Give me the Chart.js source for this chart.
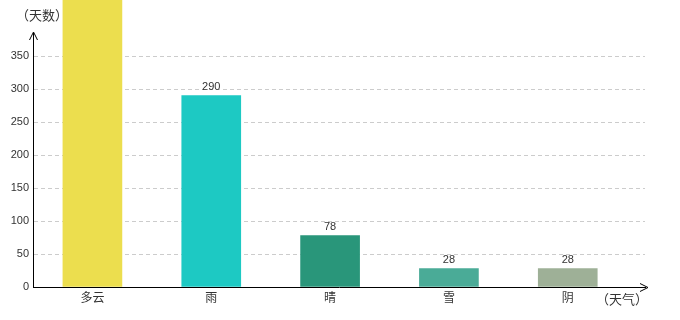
<!DOCTYPE html>
<html>
<head>
<meta charset="utf-8">
<script src="https://cdn.jsdelivr.net/npm/chart.js@4"></script>
<style>
  html, body { margin: 0; padding: 0; background: #fff; }
  #wrap { width: 680px; height: 320px; }
</style>
</head>
<body>
<div id="wrap"><canvas id="myChart" width="680" height="320"></canvas></div>
<script>
// weather categories and days
const categories = ['多云', '雨', '晴', '雪', '阴'];
const days = [500, 290, 78, 28, 28];
const barColors = ['#ECDE4E', '#1DC9C3', '#29967A', '#4AAB97', '#9EB097'];
const yTicks = [0, 50, 100, 150, 200, 250, 300, 350];

const font = "'Noto Sans CJK SC', 'Liberation Sans', sans-serif";

// value labels above bars + axis arrows + axis titles
const extras = {
  id: 'extras',
  afterDatasetsDraw(chart) {
    const ctx = chart.ctx;
    const meta = chart.getDatasetMeta(0);
    ctx.save();
    ctx.fillStyle = '#333';
    ctx.font = "11px 'Liberation Sans', sans-serif";
    ctx.textAlign = 'center';
    ctx.textBaseline = 'bottom';
    meta.data.forEach((bar, i) => {
      ctx.fillText(String(days[i]), bar.x, bar.y - 3);
    });
    ctx.restore();
  },
  afterDraw(chart) {
    const ctx = chart.ctx;
    const a = chart.chartArea;
    ctx.save();
    ctx.strokeStyle = '#000';
    ctx.lineWidth = 1;
    // y arrow
    ctx.beginPath();
    ctx.moveTo(a.left - 3.5, a.top + 7);
    ctx.lineTo(a.left + 0.5, a.top - 1);
    ctx.lineTo(a.left + 4.5, a.top + 7);
    ctx.stroke();
    // x arrow
    ctx.beginPath();
    ctx.moveTo(a.right - 5, a.bottom - 3.5);
    ctx.lineTo(a.right + 3, a.bottom + 0.5);
    ctx.lineTo(a.right - 5, a.bottom + 4.5);
    ctx.stroke();
    ctx.fillStyle = '#333';
    ctx.font = '13px ' + font;
    ctx.textBaseline = 'middle';
    ctx.textAlign = 'left';
    ctx.fillText('（天数）', 16, 15);
    ctx.fillText('（天气）', 596, 299);
    ctx.restore();
  }
};

new Chart(document.getElementById('myChart'), {
  type: 'bar',
  data: {
    datasets: [{
      data: days.map((v, i) => ({ x: i, y: v })),
      backgroundColor: barColors,
      barThickness: 59,
      clip: false
    }]
  },
  options: {
    responsive: false,
    animation: false,
    layout: { padding: { top: 33, right: 35, left: 0, bottom: 0 } },
    plugins: { legend: { display: false }, tooltip: { enabled: false } },
    scales: {
      x: {
        type: 'linear',
        offset: false,
        min: -0.5,
        max: 4.65,
        afterFit: s => { s.height = 33; },
        grid: { display: false, drawTicks: false },
        border: { color: '#000', width: 1 },
        ticks: {
          stepSize: 1,
          includeBounds: false,
          autoSkip: false,
          maxRotation: 0,
          padding: 3,
          color: '#333',
          font: { family: font, size: 12 },
          callback: v => Number.isInteger(v) && categories[v] !== undefined ? categories[v] : ''
        }
      },
      y: {
        min: 0,
        max: 385,
        afterFit: s => { s.width = 33; },
        afterBuildTicks: s => { s.ticks = yTicks.map(v => ({ value: v })); },
        grid: { color: '#cccccc', drawTicks: false, tickLength: 0 },
        border: { color: '#000', width: 1, dash: [4, 3] },
        ticks: {
          padding: 4,
          color: '#333',
          font: { family: "'Liberation Sans', sans-serif", size: 11 }
        }
      }
    }
  },
  plugins: [extras]
});
</script>
</body>
</html>
